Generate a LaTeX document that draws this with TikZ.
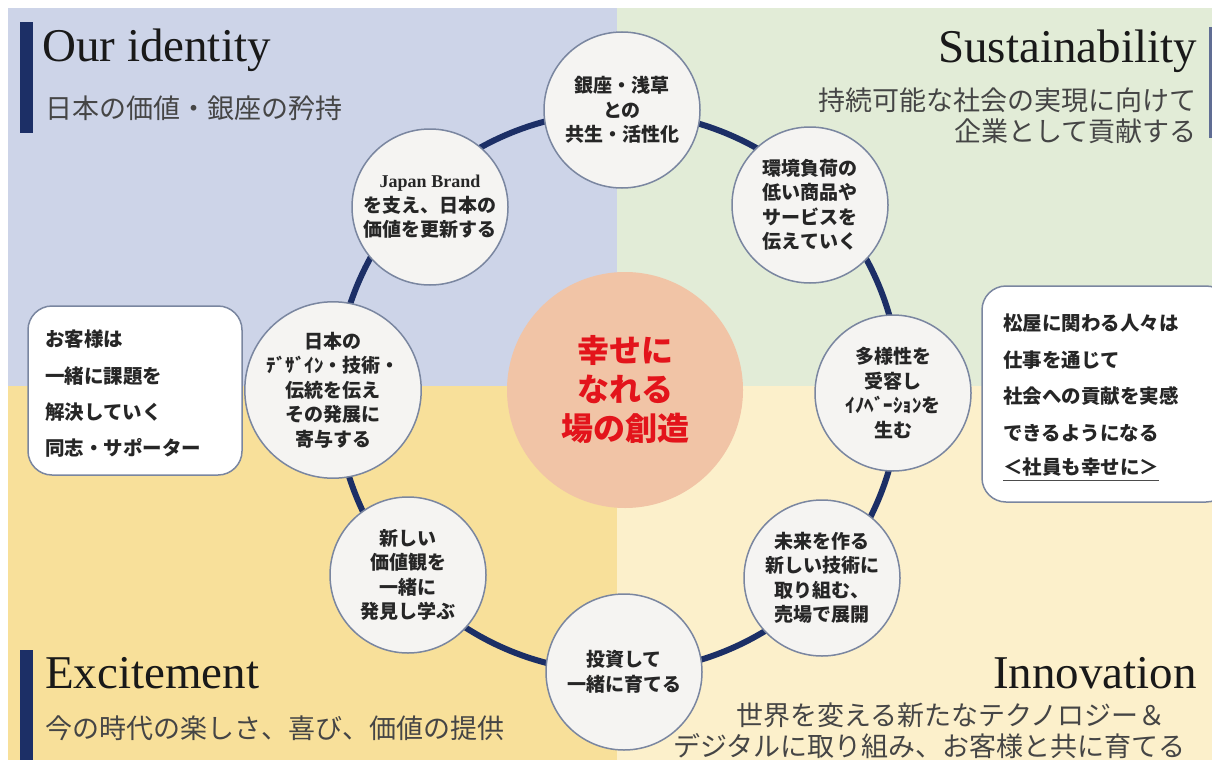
\documentclass[tikz,border=0pt]{standalone}
\usepackage{fontspec}
\setmainfont{Liberation Serif}
\newfontfamily\jp{Noto Sans CJK JP}
\definecolor{bgTL}{HTML}{CDD4E8}
\definecolor{bgTR}{HTML}{E2ECD7}
\definecolor{bgBL}{HTML}{F8E09A}
\definecolor{bgBR}{HTML}{FCF0CB}
\definecolor{navy}{HTML}{1C2F66}
\definecolor{cfill}{HTML}{F5F4F2}
\definecolor{cline}{HTML}{7A86A0}
\definecolor{salmon}{HTML}{F1C4A6}
\definecolor{redtxt}{HTML}{E3141B}
\definecolor{subgray}{HTML}{454545}
\tikzset{
  small/.style={circle,draw=cline,line width=1.5pt,fill=cfill,minimum size=156pt,inner sep=0pt,align=center,font=\jp\bfseries\fontsize{19}{24.5}\selectfont,text=black!85},
  boxtxt/.style={anchor=west,inner sep=0pt,font=\jp\bfseries\fontsize{19.5}{22}\selectfont,text=black!85},
  title/.style={font=\fontsize{47}{50}\selectfont,text=black!90,inner sep=0pt},
  subt/.style={font=\jp\fontsize{27}{32}\selectfont,text=subgray,inner sep=0pt},
  bar/.style={fill=navy,draw=none},
  rbox/.style={draw=cline,line width=1.5pt,fill=white,rounded corners=24pt}
}
\begin{document}
\begin{tikzpicture}[x=1pt,y=-1pt]
\useasboundingbox (0,0) rectangle (1212,760);
% backgrounds
\fill[white] (0,0) rectangle (1212,760);
\fill[bgTL] (8,8) rectangle (617,386);
\fill[bgTR] (617,8) rectangle (1212,386);
\fill[bgBL] (8,386) rectangle (617,760);
\fill[bgBR] (617,386) rectangle (1212,760);
% bars
\fill[bar] (20,22) rectangle (33,133);
\fill[bar] (20,650) rectangle (33,760);
\fill[navy!70] (1209,27) rectangle (1212,138);
% titles
\node[title,anchor=base west] (t1) at (42,62) {Our identity};
\node[subt,anchor=west] (s1) at (45,108) {日本の価値・銀座の矜持};
\node[title,anchor=base east] (t2) at (1197,63) {Sustainability};
\node[subt,anchor=east] (s2a) at (1197,100) {持続可能な社会の実現に向けて};
\node[subt,anchor=east] (s2b) at (1197,131) {企業として貢献する};
\node[title,anchor=base west] (t3) at (45,688) {Excitement};
\node[subt,anchor=west] (s3) at (45,728) {今の時代の楽しさ、喜び、価値の提供};
\node[title,anchor=base east] (t4) at (1197,688) {Innovation};
\node[subt,anchor=east] (s4a) at (1166,715) {世界を変える新たなテクノロジー＆};
\node[subt,anchor=east] (s4b) at (1186,746) {デジタルに取り組み、お客様と共に育てる};
% side boxes
\draw[rbox] (28,306) rectangle (242,475);
\node[boxtxt] (b1) at (45,339) {お客様は};
\node[boxtxt] (b2) at (45,376) {一緒に課題を};
\node[boxtxt] (b3) at (45,412) {解決していく};
\node[boxtxt] (b4) at (45,448) {同志・サポーター};
\draw[rbox] (982,286) rectangle (1230,502);
\node[boxtxt] (r1) at (1003,323) {松屋に関わる人々は};
\node[boxtxt] (r2) at (1003,360) {仕事を通じて};
\node[boxtxt] (r3) at (1003,396) {社会への貢献を実感};
\node[boxtxt] (r4) at (1003,433) {できるようになる};
\node[boxtxt] (r5) at (1003,467) {＜社員も幸せに＞};
\draw[black!70,line width=1.3pt] ([shift={(0,4)}]r5.south west) -- ([shift={(0,4)}]r5.south east);
% ring
\draw[navy,line width=6pt] (618,392) ellipse [x radius=282, y radius=280];
% center
\node[circle,fill=salmon,minimum size=236pt,inner sep=0pt,align=center,font=\jp\bfseries\fontsize{32}{39}\selectfont,text=redtxt] (c) at (625,390) {幸せに\\なれる\\場の創造};
% small circles
\node[small] (n1) at (622,110) {銀座・浅草\\との\\共生・活性化};
\node[small] (n2) at (810,205) {環境負荷の\\低い商品や\\サービスを\\伝えていく};
\node[small] (n3) at (893,393) {多様性を\\受容し\\ｲﾉﾍﾞｰｼｮﾝを\\生む};
\node[small] (n4) at (822,578) {未来を作る\\新しい技術に\\取り組む、\\売場で展開};
\node[small] (n5) at (624,672) {投資して\\一緒に育てる};
\node[small] (n6) at (408,575) {新しい\\価値観を\\一緒に\\発見し学ぶ};
\node[small] (n7) at (333,390) {日本の\\ﾃﾞｻﾞｲﾝ・技術・\\伝統を伝え\\その発展に\\寄与する};
\node[small] (n8) at (430,207) {{\rmfamily\bfseries\fontsize{18}{24.5}\selectfont Japan Brand}\\を支え、日本の\\価値を更新する};
\end{tikzpicture}
\end{document}
